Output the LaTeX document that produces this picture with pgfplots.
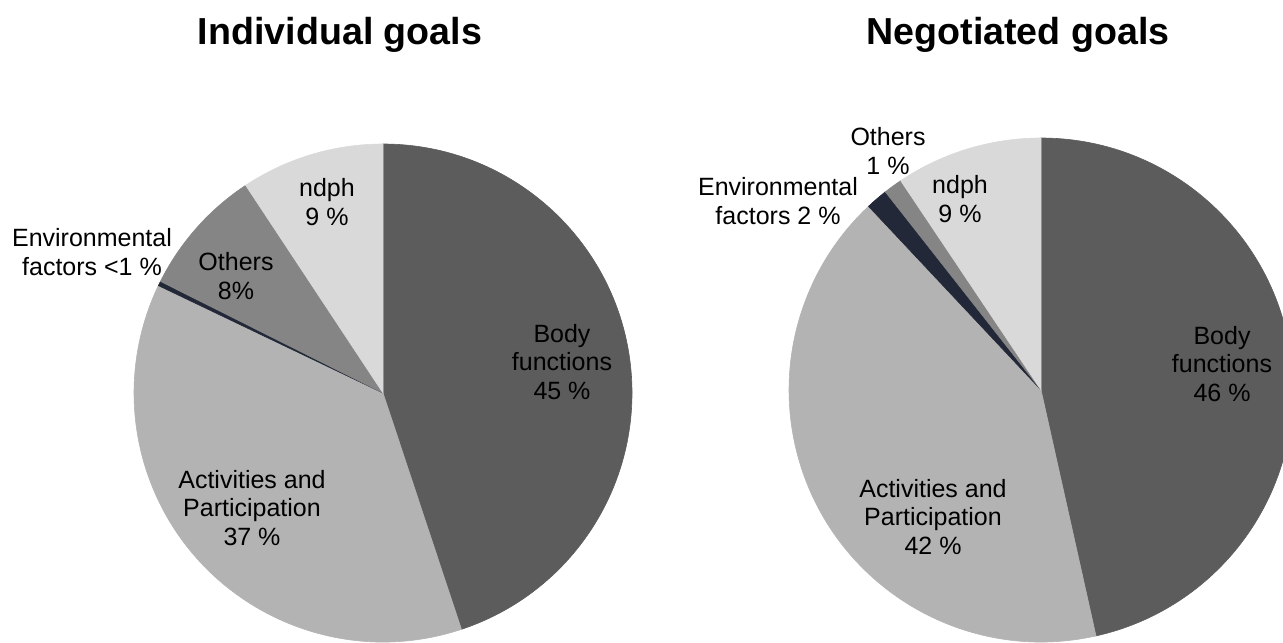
\documentclass[border=0pt]{standalone}
\usepackage{pgfplots}
\pgfplotsset{compat=1.18}
\usepackage{pgfplotstable}
\usepackage{fontspec}
\setmainfont{Liberation Sans}

\definecolor{cBody}{HTML}{5C5C5C}
\definecolor{cAct}{HTML}{B3B3B3}
\definecolor{cEnv}{HTML}{222837}
\definecolor{cOth}{HTML}{858585}
\definecolor{cNdph}{HTML}{D9D9D9}

% shares in percent, clockwise from 12 o'clock
\pgfplotstableread{
part   value colour
Body   44.9  cBody
Act    37.2  cAct
Env    0.3   cEnv
Others 8.3   cOth
ndph   9.3   cNdph
}\individual

\pgfplotstableread{
part   value colour
Body   46.5  cBody
Act    41.5  cAct
Env    1.4   cEnv
Others 1.2   cOth
ndph   9.4   cNdph
}\negotiated

% #1 table, #2 #3 centre (axis units), #4 radius, #5 macro that gets the fill commands
\newcommand\buildpie[5]{%
  \gdef#5{}%
  \def\cum{0}%
  \pgfplotstablegetrowsof{#1}%
  \pgfmathtruncatemacro\lastrow{\pgfplotsretval-1}%
  \pgfplotsforeachungrouped \i in {0,...,\lastrow}{%
    \pgfplotstablegetelem{\i}{value}\of{#1}\let\val\pgfplotsretval
    \pgfplotstablegetelem{\i}{colour}\of{#1}\let\col\pgfplotsretval
    \pgfmathsetmacro\aS{90-3.6*\cum}%
    \pgfmathsetmacro\aE{90-3.6*(\cum+\val)}%
    \pgfmathsetmacro\cum{\cum+\val}%
    \xdef#5{\unexpanded\expandafter{#5}%
      \noexpand\fill[\col, draw=\col, line width=0.3pt] (axis cs:#2,#3) -- ++(\aS:#4)
        arc[start angle=\aS, end angle=\aE, radius=#4] -- cycle;}%
  }%
}

\begin{document}
\begin{tikzpicture}[
    lbl/.style={font=\fontsize{12.5}{14.3}\selectfont, align=center, inner sep=0pt},
    ttl/.style={font=\fontsize{18.8}{22}\selectfont\bfseries, inner sep=0pt},
  ]
  \buildpie{\individual}{383}{393}{124.5pt}{\pieindividual}
  \buildpie{\negotiated}{1041}{390}{126pt}{\pienegotiated}
  \begin{axis}[
      hide axis,
      scale only axis,
      width=641.5pt, height=321pt,
      xmin=0, xmax=1283, ymin=0, ymax=642,
      y dir=reverse,
      clip=true,
    ]
    \pieindividual
    \pienegotiated

    \node[ttl] at (axis cs:340,35) {Individual goals};
    \node[ttl] at (axis cs:1018,35) {Negotiated goals};

    \node[lbl] at (axis cs:562,362) {Body\\functions\\45 \%};
    \node[lbl] at (axis cs:252,508) {Activities and\\Participation\\37 \%};
    \node[lbl] at (axis cs:92,252) {Environmental\\factors <1 \%};
    \node[lbl] at (axis cs:236,276) {Others\\8\%};
    \node[lbl] at (axis cs:327,202) {ndph\\9 \%};

    \node[lbl] at (axis cs:1222,364) {Body\\functions\\46 \%};
    \node[lbl] at (axis cs:933,517) {Activities and\\Participation\\42 \%};
    \node[lbl] at (axis cs:778,201) {Environmental\\factors 2 \%};
    \node[lbl] at (axis cs:888,151) {Others\\1 \%};
    \node[lbl] at (axis cs:960,199) {ndph\\9 \%};
  \end{axis}
  \pgfresetboundingbox
  \path (current axis.south west) rectangle (current axis.north east);
\end{tikzpicture}
\end{document}
